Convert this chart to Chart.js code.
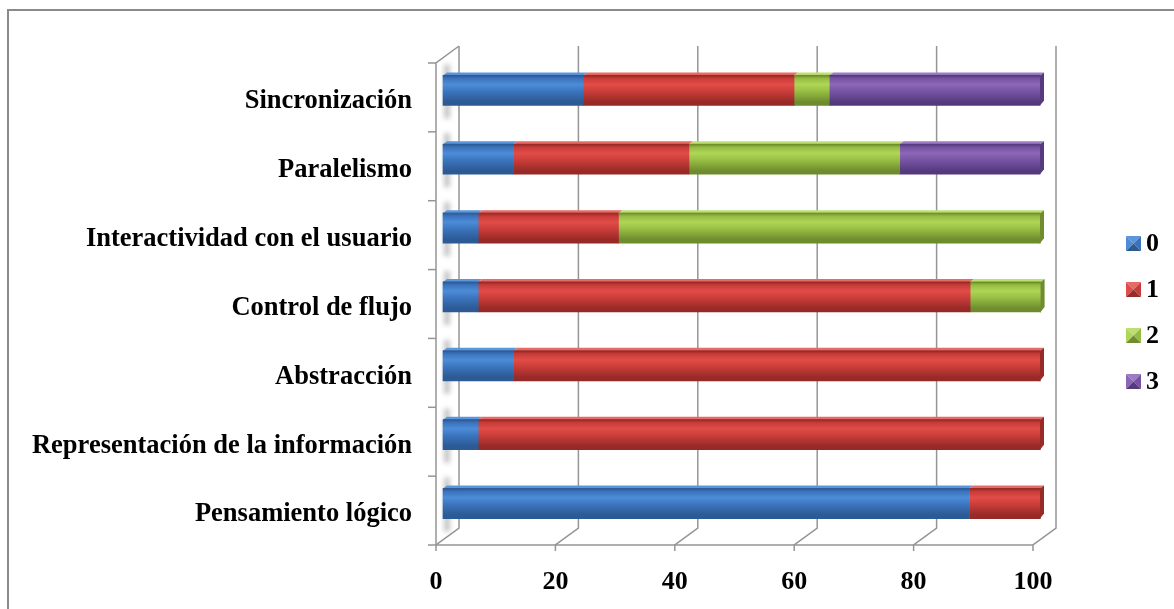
<!DOCTYPE html>
<html>
<head>
<meta charset="utf-8">
<script src="https://cdn.jsdelivr.net/npm/chart.js@4.4.0/dist/chart.umd.min.js"></script>
<style>
  html, body { margin: 0; padding: 0; background: #ffffff; }
  #wrap { width: 1174px; height: 609px; position: relative; }
</style>
</head>
<body>
<div id="wrap"><canvas id="c" width="1174" height="609"></canvas></div>
<script>
// Categories (top to bottom) and the share (%) of each score level
const categories = [
  'Sincronización',
  'Paralelismo',
  'Interactividad con el usuario',
  'Control de flujo',
  'Abstracción',
  'Representación de la información',
  'Pensamiento lógico'
];
const seriesNames = ['0', '1', '2', '3'];
const score0 = [23.5, 11.8, 5.9, 5.9, 11.8, 5.9, 88.2];
const score1 = [35.3, 29.4, 23.5, 82.4, 88.2, 94.1, 11.8];
const score2 = [5.9, 35.3, 70.6, 11.8, 0, 0, 0];
const score3 = [35.3, 23.5, 0, 0, 0, 0, 0];
const xTicks = [0, 20, 40, 60, 80, 100];

// Shades per series: top edge, highlight, body, bottom
const shades = [
  { edge: '#2b5a96', light: '#4d8cd8', base: '#3a73bc', dark: '#2c5a94', top: '#5b95dc' },
  { edge: '#962826', light: '#e24c48', base: '#c73c38', dark: '#982a28', top: '#e86a66' },
  { edge: '#6c8b2a', light: '#b0d656', base: '#95bb43', dark: '#6f8d2e', top: '#bddf70' },
  { edge: '#52387a', light: '#8d66b8', base: '#7553a1', dark: '#553a7e', top: '#9c7bc4' }
];

const FONT = "'Liberation Serif', 'Times New Roman', serif";
const DEPTH_X = 23, DEPTH_Y = 17;     // wall / floor depth
const BAR_DX = 7, BAR_DY = -7;        // bars sit inside the depth
const BAR_TOP_X = 4, BAR_TOP_Y = 3;   // bevel on top of each bar
const BAR_H = 30;

// vertical shading of one bar, built from the category scale
function barGradient(ctx, chart, series, index) {
  const s = shades[series];
  const yScale = chart.scales.y;
  if (!yScale) return s.base;
  const cy = yScale.getPixelForValue(index);
  if (!isFinite(cy)) return s.base;
  const g = ctx.createLinearGradient(0, cy - BAR_H / 2, 0, cy + BAR_H / 2);
  g.addColorStop(0, s.edge);
  g.addColorStop(0.1, s.base);
  g.addColorStop(0.3, s.light);
  g.addColorStop(0.55, s.base);
  g.addColorStop(0.88, s.dark);
  g.addColorStop(1, s.edge);
  return g;
}

const seriesData = [score0, score1, score2, score3];
const datasets = seriesData.map((vals, si) => ({
  label: seriesNames[si],
  data: vals,
  backgroundColor: (c) => barGradient(c.chart.ctx, c.chart, si, c.dataIndex),
  borderWidth: 0,
  barThickness: BAR_H,
  clip: false,
  swatch: shades[si]
}));

const frame3d = {
  id: 'frame3d',
  beforeDraw(chart) {
    const { ctx, chartArea: a, scales: { x, y } } = chart;
    ctx.save();
    // outer frame
    ctx.strokeStyle = '#8a8a8a';
    ctx.lineWidth = 2;
    ctx.beginPath();
    ctx.moveTo(1174, 10); ctx.lineTo(8, 10); ctx.lineTo(8, 609);
    ctx.stroke();

    ctx.strokeStyle = '#959595';
    ctx.lineWidth = 1.5;
    // back wall gridlines + floor diagonals
    xTicks.forEach(v => {
      const px = x.getPixelForValue(v);
      ctx.beginPath();
      ctx.moveTo(px + DEPTH_X, a.top - DEPTH_Y);
      ctx.lineTo(px + DEPTH_X, a.bottom - DEPTH_Y);
      ctx.lineTo(px, a.bottom);
      ctx.lineTo(px, a.bottom + 6);
      ctx.stroke();
    });
    // floor front edge
    ctx.beginPath();
    ctx.moveTo(a.left, a.bottom); ctx.lineTo(a.right, a.bottom);
    ctx.stroke();
    // side wall
    ctx.beginPath();
    ctx.moveTo(a.left, a.bottom); ctx.lineTo(a.left, a.top);
    ctx.lineTo(a.left + DEPTH_X, a.top - DEPTH_Y);
    ctx.stroke();
    // category boundary ticks
    const n = categories.length;
    const slot = (a.bottom - a.top) / n;
    for (let k = 0; k <= n; k++) {
      const py = a.top + k * slot;
      ctx.beginPath();
      ctx.moveTo(a.left - 8, py); ctx.lineTo(a.left, py);
      ctx.stroke();
    }
    // soft shadows of the bar ends on the side wall
    ctx.filter = 'blur(2.5px)';
    ctx.fillStyle = 'rgba(110,110,110,0.4)';
    categories.forEach((c, i) => {
      const cy = y.getPixelForValue(i) + BAR_DY;
      ctx.fillRect(a.left + 8, cy - BAR_H / 2 - 11, 6, BAR_H + 24);
    });
    ctx.filter = 'none';
    ctx.restore();
  },
  beforeDatasetsDraw(chart) {
    chart.ctx.save();
    chart.ctx.translate(BAR_DX, BAR_DY);
  },
  afterDatasetsDraw(chart) {
    const ctx = chart.ctx;
    const n = categories.length;
    for (let i = 0; i < n; i++) {
      let lastSeries = -1, lastEl = null;
      chart.data.datasets.forEach((ds, si) => {
        const el = chart.getDatasetMeta(si).data[i];
        if (!el || !ds.data[i]) return;
        const { x, y, base } = el.getProps(['x', 'y', 'base'], true);
        const top = y - BAR_H / 2;
        ctx.fillStyle = ds.swatch.top;
        ctx.beginPath();
        ctx.moveTo(base, top);
        ctx.lineTo(x, top);
        ctx.lineTo(x + BAR_TOP_X, top - BAR_TOP_Y);
        ctx.lineTo(base + BAR_TOP_X, top - BAR_TOP_Y);
        ctx.closePath();
        ctx.fill();
        ctx.strokeStyle = ds.swatch.edge;
        ctx.lineWidth = 1;
        ctx.beginPath();
        ctx.moveTo(base, top); ctx.lineTo(x, top);
        ctx.stroke();
        lastSeries = si; lastEl = el;
      });
      if (lastEl) {
        const { x, y } = lastEl.getProps(['x', 'y'], true);
        const top = y - BAR_H / 2, bot = y + BAR_H / 2;
        const sw = shades[lastSeries];
        ctx.fillStyle = sw.dark;
        ctx.beginPath();
        ctx.moveTo(x, top);
        ctx.lineTo(x + BAR_TOP_X, top - BAR_TOP_Y);
        ctx.lineTo(x + BAR_TOP_X, bot - BAR_TOP_Y - 2);
        ctx.lineTo(x, bot);
        ctx.closePath();
        ctx.fill();
      }
    }
    ctx.restore();
  },
  afterDraw(chart) {
    // legend with bevelled swatches
    const ctx = chart.ctx;
    ctx.save();
    chart.data.datasets.forEach((ds, si) => {
      const mx = 1126, my = 236 + si * 46, s = 15;
      const sw = ds.swatch;
      const cx = mx + s / 2, cy = my + s / 2;
      const tri = (pts, col) => {
        ctx.fillStyle = col;
        ctx.beginPath();
        ctx.moveTo(pts[0], pts[1]); ctx.lineTo(pts[2], pts[3]); ctx.lineTo(pts[4], pts[5]);
        ctx.closePath(); ctx.fill();
      };
      tri([mx, my, mx + s, my, cx, cy], sw.top);
      tri([mx, my, mx, my + s, cx, cy], sw.light);
      tri([mx + s, my, mx + s, my + s, cx, cy], sw.base);
      tri([mx, my + s, mx + s, my + s, cx, cy], sw.dark);
      ctx.fillStyle = '#000';
      ctx.font = 'bold 26px ' + FONT;
      ctx.textBaseline = 'middle';
      ctx.textAlign = 'left';
      ctx.fillText(ds.label, 1146, cy + 1);
    });
    ctx.restore();
  }
};

new Chart(document.getElementById('c'), {
  type: 'bar',
  data: { labels: categories, datasets },
  plugins: [frame3d],
  options: {
    indexAxis: 'y',
    responsive: false,
    animation: false,
    devicePixelRatio: 1,
    layout: { padding: { top: 63, right: 141, bottom: 0, left: 0 } },
    plugins: { legend: { display: false }, tooltip: { enabled: false } },
    scales: {
      x: {
        stacked: true,
        min: 0, max: 100,
        afterBuildTicks: (s) => { s.ticks = xTicks.map(v => ({ value: v })); },
        afterFit: (s) => { s.height = 64; },
        grid: { display: false },
        border: { display: false },
        ticks: { color: '#000', padding: 14, font: { family: FONT, size: 26, weight: 'bold' } }
      },
      y: {
        stacked: true,
        afterFit: (s) => { s.width = 436; },
        grid: { display: false },
        border: { display: false },
        ticks: { color: '#000', padding: 16, labelOffset: 4, font: { family: FONT, size: 26.5, weight: 'bold' } }
      }
    }
  }
});
</script>
</body>
</html>
